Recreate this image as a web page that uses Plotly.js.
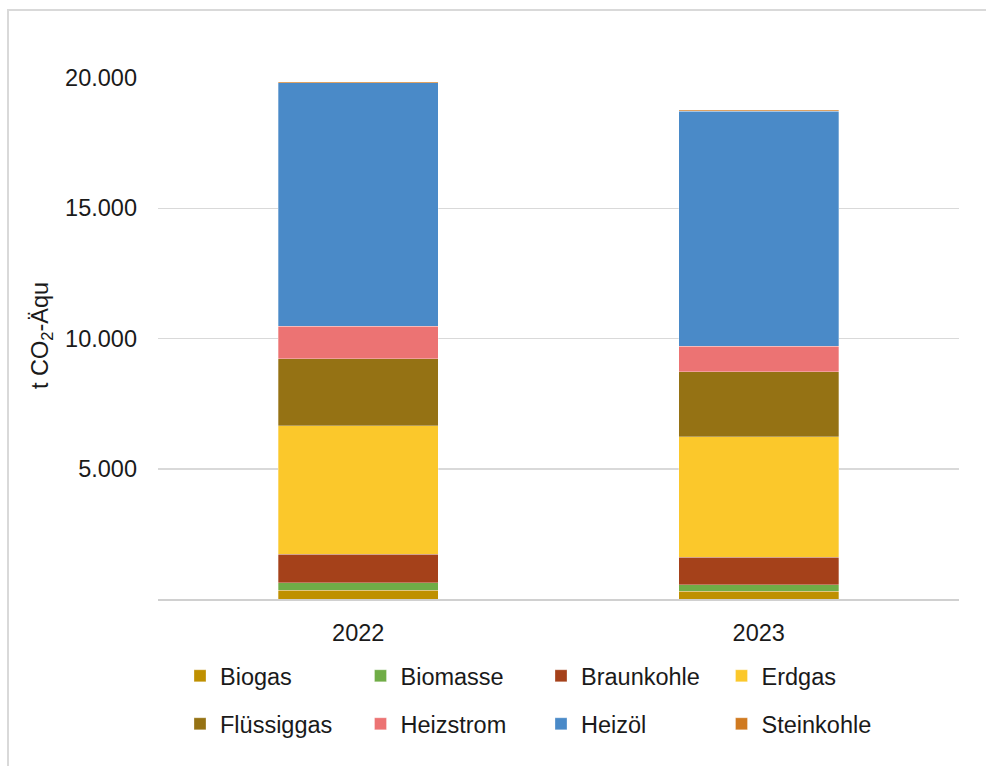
<!DOCTYPE html>
<html>
<head>
<meta charset="utf-8">
<script src="https://cdn.plot.ly/plotly-3.0.1.min.js"></script>
<style>html,body{margin:0;padding:0;background:#fff;}#chart{width:986px;height:766px;}</style>
</head>
<body>
<div id="chart"></div>
<script>
const years = ['2022', '2023'];
const seriesNames = ['Biogas', 'Biomasse', 'Braunkohle', 'Erdgas', 'Flüssiggas', 'Heizstrom', 'Heizöl', 'Steinkohle'];
const biogas     = [334, 307];
const biomasse   = [296, 246];
const braunkohle = [1087, 1049];
const erdgas     = [4928, 4620];
const fluessiggas= [2573, 2497];
const heizstrom  = [1245, 987];
const heizoel    = [9357, 9015];
const steinkohle = [35, 45];
const yTicks = [5000, 10000, 15000, 20000];

const values = [biogas, biomasse, braunkohle, erdgas, fluessiggas, heizstrom, heizoel, steinkohle];
const colors = ['#BF9000', '#70AD47', '#A5411A', '#FBC82B', '#957214', '#EC7373', '#4A8AC8', '#D07A20'];

const FONT = 'Liberation Sans, Arial, Helvetica, sans-serif';
const TXT = '#1a1a1a';
const FS = 23.5;

const traces = seriesNames.map((n, i) => ({
  type: 'bar',
  name: n,
  x: years,
  y: values[i],
  marker: { color: colors[i], line: { color: 'rgba(255,255,255,0.5)', width: 0.6 } },
  legend: i < 4 ? 'legend' : 'legend2',
  hoverinfo: 'name+y'
}));

const L = 158, R = 959, T = 78, B = 599;
const W = R - L, H = B - T;
const px = v => (v - L) / W;
const py = v => (B - v) / H;

const legendBase = {
  orientation: 'h',
  traceorder: 'normal',
  xref: 'container', yref: 'container',
  xanchor: 'left',
  yanchor: 'middle',
  x: 180 / 986,
  entrywidth: 135.5,
  entrywidthmode: 'pixels',
  font: { family: FONT, size: FS, color: TXT },
  bgcolor: 'rgba(0,0,0,0)',
  itemclick: false,
  itemdoubleclick: false
};

const layout = {
  width: 986,
  height: 766,
  margin: { l: L, r: 986 - R, t: T, b: 766 - B, pad: 0 },
  paper_bgcolor: '#fff',
  plot_bgcolor: '#fff',
  barmode: 'stack',
  bargap: 0.6,
  separators: ',.',
  font: { family: FONT, size: FS, color: TXT },
  showlegend: true,
  legend: Object.assign({}, legendBase, { y: 1 - 676 / 766 }),
  legend2: Object.assign({}, legendBase, { y: 1 - 724 / 766 }),
  xaxis: {
    type: 'category',
    showline: true,
    linecolor: '#d0d0d0',
    linewidth: 1.5,
    ticks: '',
    showgrid: false,
    tickfont: { family: FONT, size: FS, color: TXT },
    ticklabelstandoff: 12,
    fixedrange: true
  },
  yaxis: {
    range: [0, 20000],
    tickvals: yTicks,
    tickformat: ',d',
    showgrid: true,
    gridcolor: '#d9d9d9',
    gridwidth: 1.5,
    zeroline: false,
    showline: false,
    ticks: '',
    tickfont: { family: FONT, size: FS, color: TXT },
    ticklabelstandoff: 20,
    fixedrange: true
  },
  annotations: [{
    xref: 'paper', yref: 'paper',
    x: px(41), y: py(336),
    xanchor: 'center', yanchor: 'middle',
    text: 't CO<sub>2</sub>-Äqu',
    textangle: -90,
    showarrow: false,
    font: { family: FONT, size: FS, color: TXT }
  }],
  shapes: [{
    type: 'rect',
    xref: 'paper', yref: 'paper',
    x0: px(8), x1: px(1100),
    y0: py(900), y1: py(10),
    line: { color: '#d9d9d9', width: 2 },
    fillcolor: 'rgba(0,0,0,0)',
    layer: 'below'
  }]
};

Plotly.newPlot('chart', traces, layout, { displayModeBar: false, staticPlot: true });
</script>
</body>
</html>
